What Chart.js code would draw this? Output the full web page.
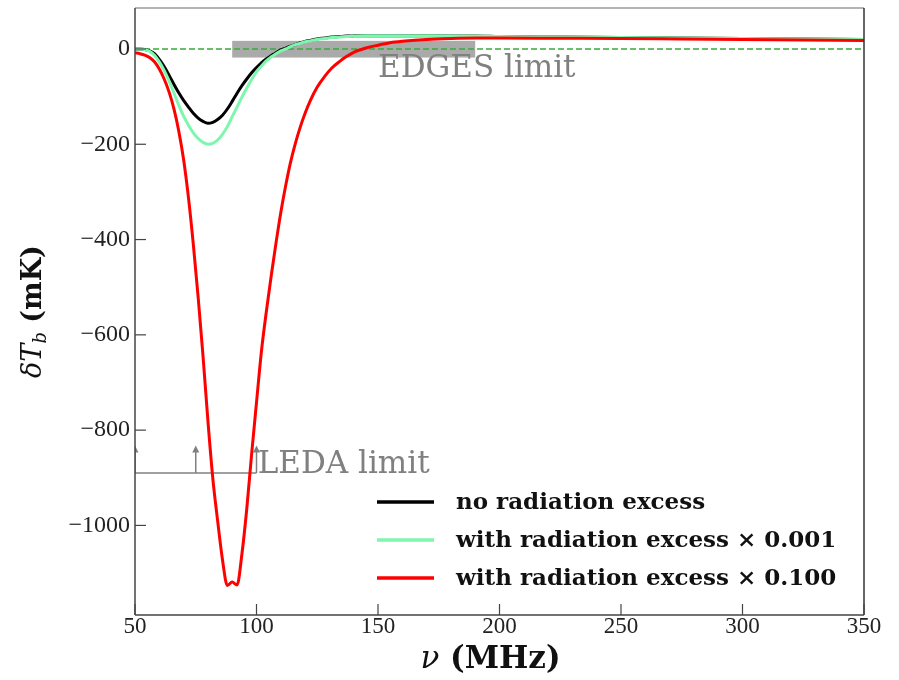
<!DOCTYPE html>
<html>
<head>
<meta charset="utf-8">
<script src="https://cdn.jsdelivr.net/npm/chart.js@4.4.1/dist/chart.umd.min.js"></script>
<style>
  html, body { margin: 0; padding: 0; background: #fff; }
  #wrap { width: 899px; height: 680px; }
</style>
</head>
<body>
<div id="wrap"><canvas id="dtb" width="899" height="680"></canvas></div>
<script>
// frequency grid, MHz
const freq = [50, 52, 54, 56, 58, 60, 62, 64, 66, 68,
              70, 72, 74, 76, 78, 80, 82, 84, 86, 88,
              90, 92, 94, 96, 98, 100, 102, 104, 106, 108,
              110, 112, 114, 116, 118, 120, 122, 125, 128, 131,
              134, 137, 140, 145, 150, 155, 160, 170, 180, 190,
              200, 225, 250, 275, 300, 325, 350];

// global 21cm signal dT_b, mK
const noExcess = [0, 0, -1, -4, -10, -22, -37, -55, -74, -92,
                  -108, -122, -135, -145, -152, -156, -154, -148, -139, -126,
                  -110, -93, -77, -63, -50, -39, -29, -21, -14, -8,
                  -2, 2, 6, 9, 13, 16, 18, 21, 23, 25,
                  26, 27, 27.5, 28, 28, 28, 28, 28, 27, 27,
                  26, 25, 24, 23, 22, 21, 20];
const excess001 = [0, 0, -1, -5, -13, -27, -45, -67, -92, -118,
                   -141, -160, -176, -188, -196, -200, -198, -191, -179, -163,
                   -142, -122, -101, -82, -64, -48, -36, -25, -17, -10,
                   -4, 0, 5, 9, 12, 15, 17, 20, 22, 24,
                   25, 26, 27, 28, 28, 28, 28, 28, 27, 27,
                   26, 25, 24, 23, 22, 21, 20];
const excess100 = [-8, -10, -13, -18, -27, -42, -63, -90, -125, -172,
                   -232, -312, -410, -522, -645, -780, -900, -990, -1072, -1126,
                   -1119, -1125, -1060, -965, -850, -742, -636, -553, -478, -408,
                   -343, -287, -238, -198, -164, -135, -110, -80, -58, -40,
                   -27, -16, -7, 2, 8, 13, 16, 20, 22, 23,
                   23, 22.5, 22, 21, 20, 19, 18];

const seriesLabels = ['no radiation excess', 'with radiation excess \u00d7 0.001', 'with radiation excess \u00d7 0.100'];
const seriesColors = ['#000000', '#7df7ae', '#ff0000'];

// zero reference
const zeroFreq = [50, 350];
const zeroLevel = [0, 0];

// observational limits
const edgesFreq = [90, 190];
const edgesBand = [-18, 17];
const ledaFreq = [50, 100];
const ledaArrows = [50, 75, 100];
const ledaLevel = -890;

const xTickStep = 50;
const yTickStep = 200;

const serif = '"DejaVu Serif", serif';
const tickFont = '"Liberation Serif", serif';

const toPoints = (xs, ys) => xs.map((v, i) => ({ x: v, y: ys[i] }));

function drawRich(ctx, parts, x, y) {
  // parts: [{text, font, dy}] drawn left to right, centred on x
  let total = 0;
  parts.forEach(p => { ctx.font = p.font; p.w = ctx.measureText(p.text).width; total += p.w; });
  let cx = x - total / 2;
  parts.forEach(p => {
    ctx.font = p.font;
    ctx.fillText(p.text, cx, y + (p.dy || 0));
    cx += p.w;
  });
}

const decorations = {
  id: 'decorations',
  beforeDatasetsDraw(chart) {
    const { ctx, chartArea: a, scales: { x, y } } = chart;
    ctx.save();
    ctx.beginPath();
    ctx.rect(a.left, a.top, a.right - a.left, a.bottom - a.top);
    ctx.clip();

    // EDGES band
    ctx.fillStyle = '#aaaaaa';
    const bx0 = x.getPixelForValue(edgesFreq[0]), bx1 = x.getPixelForValue(edgesFreq[1]);
    const by0 = y.getPixelForValue(edgesBand[1]), by1 = y.getPixelForValue(edgesBand[0]);
    ctx.fillRect(bx0, by0, bx1 - bx0, by1 - by0);

    // LEDA lower limit with arrows
    ctx.strokeStyle = '#808080';
    ctx.fillStyle = '#808080';
    ctx.lineWidth = 1.5;
    const ly = y.getPixelForValue(ledaLevel);
    ctx.beginPath();
    ctx.moveTo(x.getPixelForValue(ledaFreq[0]), ly);
    ctx.lineTo(x.getPixelForValue(ledaFreq[1]), ly);
    ctx.stroke();
    const tipY = y.getPixelForValue(ledaLevel + 58);
    ledaArrows.forEach(f => {
      const px = x.getPixelForValue(f);
      ctx.beginPath();
      ctx.moveTo(px, ly);
      ctx.lineTo(px, tipY + 5);
      ctx.stroke();
      ctx.beginPath();
      ctx.moveTo(px, tipY);
      ctx.lineTo(px - 3.5, tipY + 7);
      ctx.lineTo(px + 3.5, tipY + 7);
      ctx.closePath();
      ctx.fill();
    });
    ctx.restore();
  },
  afterDatasetsDraw(chart) {
    const { ctx, scales: { x, y } } = chart;
    ctx.save();
    ctx.fillStyle = '#808080';
    ctx.font = '31px ' + serif;
    ctx.textBaseline = 'alphabetic';
    ctx.textAlign = 'left';
    ctx.fillText('EDGES limit', x.getPixelForValue(150), y.getPixelForValue(-59));
    ctx.fillText('LEDA limit', x.getPixelForValue(100.5), y.getPixelForValue(ledaLevel));
    ctx.restore();
  },
  afterDraw(chart) {
    const { ctx, chartArea: a, scales: { x, y } } = chart;
    ctx.save();

    // frame
    ctx.lineWidth = 1.5;
    const edge = (x0, y0, x1, y1, c) => {
      ctx.strokeStyle = c;
      ctx.beginPath(); ctx.moveTo(x0, y0); ctx.lineTo(x1, y1); ctx.stroke();
    };
    edge(a.left, a.top, a.right, a.top, '#9a9a9a');
    edge(a.right, a.top, a.right, a.bottom, '#333333');
    edge(a.left, a.top, a.left, a.bottom, '#444444');
    edge(a.left, a.bottom, a.right, a.bottom, '#444444');

    // inward ticks
    ctx.lineWidth = 1.2;
    x.ticks.forEach(t => {
      const px = x.getPixelForValue(t.value);
      edge(px, a.bottom, px, a.bottom - 11, '#444444');
    });
    y.ticks.forEach(t => {
      const py = y.getPixelForValue(t.value);
      edge(a.left, py, a.left + 11, py, '#444444');
    });

    // legend, lower right
    const rows = [502, 540, 578];
    ctx.textBaseline = 'middle';
    ctx.textAlign = 'left';
    ctx.font = 'bold 23px ' + serif;
    seriesLabels.forEach((lab, i) => {
      ctx.strokeStyle = seriesColors[i];
      ctx.lineWidth = 3.5;
      ctx.beginPath();
      ctx.moveTo(377, rows[i]);
      ctx.lineTo(434, rows[i]);
      ctx.stroke();
      ctx.fillStyle = '#111111';
      ctx.fillText(lab, 456, rows[i] + 1);
    });

    // axis titles
    ctx.fillStyle = '#111111';
    ctx.textBaseline = 'alphabetic';
    drawRich(ctx, [
      { text: '\u03bd', font: 'italic 31px ' + serif },
      { text: ' (MHz)', font: 'bold 31px ' + serif }
    ], (a.left + a.right) / 2 - 9, 668);

    ctx.translate(41, (a.top + a.bottom) / 2);
    ctx.rotate(-Math.PI / 2);
    drawRich(ctx, [
      { text: '\u03b4T', font: 'italic 27px ' + serif },
      { text: 'b', font: 'italic 18px ' + serif, dy: 5 },
      { text: ' (mK)', font: 'bold 27px ' + serif }
    ], 0, 0);
    ctx.restore();
  }
};

new Chart(document.getElementById('dtb'), {
  type: 'line',
  data: {
    datasets: [
      { label: 'zero', data: toPoints(zeroFreq, zeroLevel), borderColor: '#3aaa3a',
        borderWidth: 1.5, borderDash: [6, 3], order: 4 },
      { label: seriesLabels[0], data: toPoints(freq, noExcess), borderColor: seriesColors[0], order: 3 },
      { label: seriesLabels[1], data: toPoints(freq, excess001), borderColor: seriesColors[1], order: 2 },
      { label: seriesLabels[2], data: toPoints(freq, excess100), borderColor: seriesColors[2], order: 1 }
    ]
  },
  options: {
    responsive: false,
    animation: false,
    layout: { padding: { top: 8, right: 35, left: 0, bottom: 0 } },
    elements: {
      point: { radius: 0 },
      line: { borderWidth: 3, cubicInterpolationMode: 'monotone', fill: false }
    },
    plugins: {
      legend: { display: false },
      tooltip: { enabled: false }
    },
    scales: {
      x: {
        type: 'linear',
        min: 50,
        max: 350,
        grid: { display: false, drawTicks: false },
        border: { display: false },
        ticks: {
          stepSize: xTickStep,
          includeBounds: false,
          maxRotation: 0,
          padding: -2,
          color: '#222222',
          font: { family: tickFont, size: 23 }
        },
        afterFit: s => { s.height = 65; s.paddingLeft = 0; s.paddingRight = 0; }
      },
      y: {
        min: -1188,
        max: 86,
        grid: { display: false, drawTicks: false },
        border: { display: false },
        ticks: {
          stepSize: yTickStep,
          includeBounds: false,
          padding: 5,
          color: '#222222',
          font: { family: tickFont, size: 24 },
          callback: v => (v < 0 ? '\u2212' + Math.abs(v) : String(v))
        },
        afterFit: s => { s.width = 135; s.paddingTop = 0; s.paddingBottom = 0; }
      }
    }
  },
  plugins: [decorations]
});
</script>
</body>
</html>
